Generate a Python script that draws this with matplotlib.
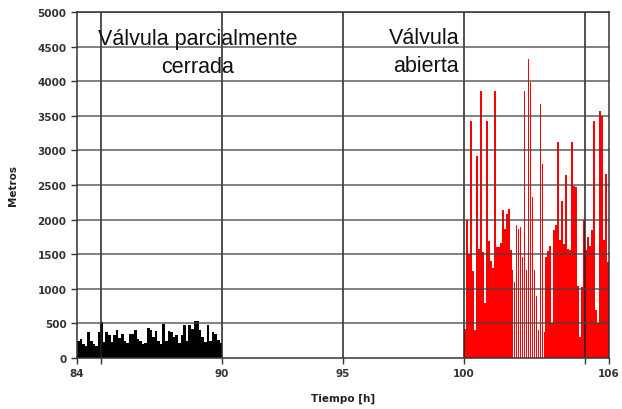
import numpy as np
import matplotlib
matplotlib.use("Agg")
import matplotlib.pyplot as plt

# Axis ticks
x_tick_values = [84, 90, 95, 100, 106]
x_tick_labels = ["84", "90", "95", "100", "106"]
x_grid_values = [85, 90, 95, 100, 105]
y_tick_values = list(range(0, 5001, 500))

# Depth readings (m) with the valve partially closed, 84 h – 90 h
closed_start, closed_end = 84.0, 90.0
closed_metros = [
    240, 280, 200, 180, 370, 250, 200, 180, 380, 520,
    230, 370, 330, 230, 330, 400, 290, 350, 250, 220,
    340, 350, 400, 280, 250, 200, 220, 430, 400, 300,
    390, 250, 200, 490, 250, 390, 380, 300, 330, 220,
    330, 470, 250, 480, 420, 540, 530, 400, 300, 230,
    470, 250, 370, 350, 260, 220,
]

# Depth readings (m) with the valve open, 100 h – 106 h
open_start, open_end = 100.0, 106.0
open_metros = [
    420, 2000, 1500, 3430, 1260, 400, 2920, 1575, 3860, 1530,
    800, 3430, 1695, 1400, 1300, 3860, 1600, 1600, 1660, 2140,
    1870, 2080, 2150, 1560, 1270, 1100, 1920, 1870, 1900, 1460,
    3860, 1270, 4320, 3990, 2330, 1270, 900, 400, 3670, 2800,
    375, 1460, 1550, 1620, 500, 1850, 1920, 3125, 1700, 2270,
    1650, 2640, 1580, 1560, 3125, 2490, 2470, 1045, 300, 1030,
    2000, 1560, 1750, 1620, 1850, 3430, 700, 500, 3575, 3500,
    1700, 2660, 1385,
]

fig = plt.figure(figsize=(6.22, 4.10), dpi=100)
ax = fig.add_axes([77 / 622, 51 / 410, 532 / 622, 346 / 410])

# grid, drawn over the data columns
for xv in x_grid_values:
    ax.axvline(xv, color="#222222", lw=1.1, zorder=4)
for yv in y_tick_values[1:]:
    ax.axhline(yv, color="#444444", lw=1.1, alpha=0.85, zorder=4)

# partially closed valve: dense black columns
n_c = len(closed_metros)
step_c = (closed_end - closed_start) / n_c
xc = closed_start + step_c * (np.arange(n_c) + 0.5)
ax.bar(xc, closed_metros, width=step_c * 1.02, color="black",
       edgecolor="none", zorder=3)

# open valve: red columns
n_o = len(open_metros)
step_o = (open_end - open_start) / n_o
xo = open_start + step_o * (np.arange(n_o) + 0.5)
ax.bar(xo, open_metros, width=step_o * 0.9, color="#ff0000",
       edgecolor="none", zorder=3)

ax.set_xlim(84, 106)
ax.set_ylim(0, 5000)

ax.set_xticks(x_tick_values)
ax.set_xticklabels(x_tick_labels)
ax.set_xticks([85, 105], minor=True)
ax.set_yticks(y_tick_values)
ax.tick_params(axis="both", which="both", direction="out", length=4,
               width=1, color="#333333")
ax.tick_params(axis="both", which="major", labelsize=7.5,
               labelcolor="#333333")
for lab in ax.get_xticklabels() + ax.get_yticklabels():
    lab.set_fontweight("bold")
    lab.set_family("DejaVu Sans")

for sp in ax.spines.values():
    sp.set_color("#333333")
    sp.set_linewidth(1.1)
    sp.set_zorder(5)

ax.set_xlabel("Tiempo [h]", fontsize=7.5, fontweight="bold",
              color="#222222", labelpad=10)
ax.set_ylabel("Metros", fontsize=7.5, fontweight="bold",
              color="#222222", labelpad=14)

ax.text(89.0, 4410, "Válvula parcialmente\ncerrada", ha="center",
        va="center", fontsize=15.5, family="Liberation Sans",
        linespacing=1.42, color="#111111", zorder=6)
ax.text(99.8, 4430, "Válvula\nabierta", ha="right", va="center",
        fontsize=15.5, family="Liberation Sans", linespacing=1.42,
        color="#111111", zorder=6)

fig.savefig("out.png", dpi=100, facecolor="white")
